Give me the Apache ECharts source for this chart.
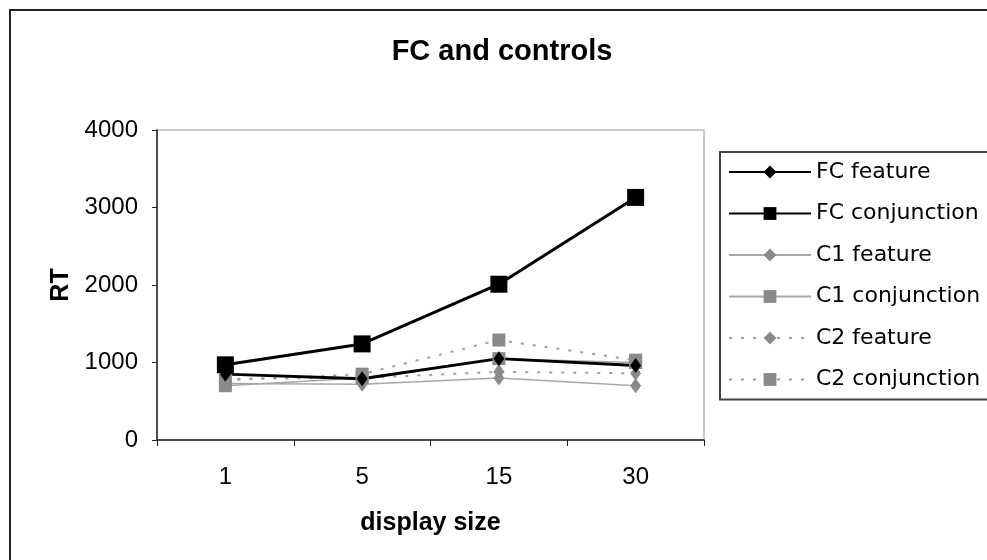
<!DOCTYPE html>
<html>
<head>
<meta charset="utf-8">
<script src="https://cdn.jsdelivr.net/npm/echarts@6/dist/echarts.min.js"></script>
<style>
  html, body { margin: 0; padding: 0; background: #fff; }
  #main { width: 987px; height: 560px; }
</style>
</head>
<body>
<div id="main"></div>
<script>
// display sizes on the x axis
var displaySizes = ['1', '5', '15', '30'];

// RT values
var fcFeature     = [850, 790, 1050, 960];
var fcConjunction = [970, 1240, 2010, 3130];
var c1Feature     = [730, 720, 800, 700];
var c1Conjunction = [700, 800, 1050, 1000];
var c2Feature     = [790, 800, 880, 860];
var c2Conjunction = [770, 850, 1290, 1030];

var font = 'Liberation Sans, Arial, sans-serif';

function makeSeries(name, data, symbol, size, color, lineColor, width, type) {
	return {
		name: name,
		type: 'line',
		data: data,
		symbol: symbol,
		symbolSize: size,
		itemStyle: { color: color },
		lineStyle: { color: lineColor, width: width, type: type },
		emphasis: { disabled: true }
	};
}

var myChart = echarts.init(document.getElementById('main'));

myChart.setOption({
	animation: false,
	backgroundColor: '#fff',
	title: {
		text: 'FC and controls',
		left: 497,
		top: 32,
		textAlign: 'center',
		textStyle: { fontFamily: font, fontSize: 29, fontWeight: 'bold', color: '#000' }
	},
	graphic: [{
		type: 'rect',
		shape: { x: 10, y: 10, width: 1000, height: 600 },
		style: { fill: null, stroke: '#222', lineWidth: 2 },
		z: -1
	}],
	grid: {
		left: 157, top: 130, right: 283, bottom: 120,
		show: true, borderColor: '#bbb', borderWidth: 1.5
	},
	legend: {
		orient: 'vertical',
		left: 720, top: 152,
		padding: [9, 40, 9, 8],
		itemWidth: 82, itemHeight: 16, itemGap: 19.5,
		borderColor: '#444', borderWidth: 2,
		textStyle: { fontFamily: 'DejaVu Sans, sans-serif', fontSize: 22, color: '#000' },
		data: ['FC feature', 'FC conjunction', 'C1 feature', 'C1 conjunction', 'C2 feature', 'C2 conjunction']
	},
	xAxis: {
		type: 'category',
		data: displaySizes,
		boundaryGap: true,
		name: 'display size',
		nameLocation: 'middle',
		nameGap: 71,
		nameTextStyle: { fontFamily: font, fontSize: 25, fontWeight: 'bold', color: '#000' },
		axisLine: { lineStyle: { color: '#222', width: 1.5 } },
		axisTick: { show: true, length: 6, lineStyle: { color: '#222' } },
		axisLabel: { fontFamily: font, fontSize: 24, color: '#000', margin: 25 }
	},
	yAxis: {
		type: 'value',
		min: 0, max: 4000, interval: 1000,
		name: 'RT',
		nameLocation: 'middle',
		nameGap: 66,
		nameRotate: 90,
		nameTextStyle: { fontFamily: font, fontSize: 25, fontWeight: 'bold', color: '#000' },
		axisLine: { show: true, lineStyle: { color: '#222', width: 1.5 } },
		axisTick: { show: true, length: 5, lineStyle: { color: '#222' } },
		splitLine: { show: false },
		axisLabel: {
			fontFamily: font, fontSize: 24, color: '#000', margin: 19,
			formatter: function (v) { return String(v); }
		}
	},
	series: [
		makeSeries('C1 feature', c1Feature, 'diamond', [11, 15], '#8a8a8a', '#a8a8a8', 1.5, 'solid'),
		makeSeries('C1 conjunction', c1Conjunction, 'rect', 13, '#8a8a8a', '#a8a8a8', 1.5, 'solid'),
		makeSeries('C2 feature', c2Feature, 'diamond', [11, 15], '#8a8a8a', '#a0a0a0', 2, [3, 9]),
		makeSeries('C2 conjunction', c2Conjunction, 'rect', 13, '#8a8a8a', '#a0a0a0', 2, [3, 9]),
		makeSeries('FC feature', fcFeature, 'diamond', [11, 15], '#000', '#000', 3, 'solid'),
		makeSeries('FC conjunction', fcConjunction, 'rect', 17, '#000', '#000', 3, 'solid')
	]
});
</script>
</body>
</html>
